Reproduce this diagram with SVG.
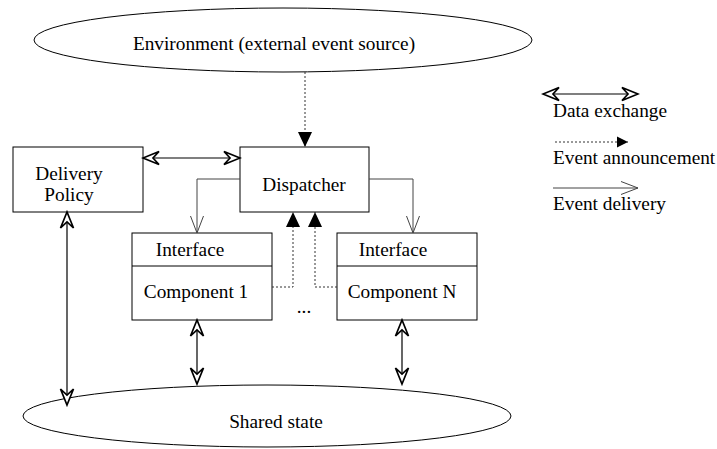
<svg xmlns="http://www.w3.org/2000/svg" width="717" height="449" viewBox="0 0 717 449">
<style>
text{font-family:"Liberation Serif","Times New Roman",serif;font-size:19.3px;fill:#000}
.box{fill:#fff;stroke:#000;stroke-width:1}
.ell{fill:#fff;stroke:#000;stroke-width:1}
.dx{fill:none;stroke:#000;stroke-width:1.2}
.ev{fill:none;stroke:#333;stroke-width:1;stroke-dasharray:2,2}
.dl{fill:none;stroke:#444;stroke-width:1}
</style>
<defs>
<marker id="mdx" markerUnits="userSpaceOnUse" viewBox="-18 -9 20 18" refX="0" refY="0" markerWidth="20" markerHeight="18" orient="auto-start-reverse">
<path d="M0,0 L-16,-6.5 L-10,0 L-16,6.5 Z" fill="#fff" stroke="#000" stroke-width="1.7" stroke-linejoin="miter"/>
</marker>
<marker id="mev" markerUnits="userSpaceOnUse" viewBox="-16 -8 17 16" refX="0" refY="0" markerWidth="17" markerHeight="16" orient="auto">
<path d="M0,0 L-15,-7 L-15,7 Z" fill="#000"/>
</marker>
<marker id="mev2" markerUnits="userSpaceOnUse" viewBox="-12 -6 13 12" refX="0" refY="0" markerWidth="13" markerHeight="12" orient="auto">
<path d="M0,0 L-11,-5.5 L-11,5.5 Z" fill="#000"/>
</marker>
<marker id="mdl" markerUnits="userSpaceOnUse" viewBox="-18 -8 19 16" refX="0" refY="0" markerWidth="19" markerHeight="16" orient="auto">
<path d="M-17,-6.5 L0,0 L-17,6.5" fill="none" stroke="#444" stroke-width="1"/>
</marker>
</defs>

<g id="environment">
<ellipse class="ell" cx="283" cy="40" rx="249" ry="32"/>
<text x="274" y="50" text-anchor="middle">Environment (external event source)</text>
</g>

<g id="delivery-policy">
<rect class="box" x="13" y="147" width="130" height="65"/>
<text x="69" y="180" text-anchor="middle">Delivery</text>
<text x="69" y="201" text-anchor="middle">Policy</text>
</g>

<g id="dispatcher">
<rect class="box" x="240" y="147" width="129" height="65"/>
<text x="304" y="191" text-anchor="middle">Dispatcher</text>
</g>

<g id="component-1">
<rect class="box" x="132" y="233" width="140" height="87"/>
<line x1="132" y1="266" x2="272" y2="266" stroke="#000" stroke-width="1"/>
<text x="190" y="256" text-anchor="middle">Interface</text>
<text x="196" y="298" text-anchor="middle">Component 1</text>
</g>

<g id="component-n">
<rect class="box" x="337" y="233" width="140" height="87"/>
<line x1="337" y1="266" x2="477" y2="266" stroke="#000" stroke-width="1"/>
<text x="393" y="256" text-anchor="middle">Interface</text>
<text x="402" y="298" text-anchor="middle">Component N</text>
</g>

<g id="shared-state">
<ellipse class="ell" cx="267" cy="416" rx="244" ry="31"/>
<text x="276" y="428" text-anchor="middle">Shared state</text>
</g>

<g id="ellipsis">
<text x="304" y="313" text-anchor="middle">...</text>
</g>

<g id="connectors">
<path class="ev" d="M305,72 L305,147" marker-end="url(#mev)"/>
<path class="dx" d="M143,158 L240,158" marker-start="url(#mdx)" marker-end="url(#mdx)"/>
<path class="dl" d="M240,179 L197,179 L197,233" marker-end="url(#mdl)"/>
<path class="dl" d="M369,179 L413,179 L413,233" marker-end="url(#mdl)"/>
<path class="ev" d="M272,287 L293,287 L293,212" marker-end="url(#mev)"/>
<path class="ev" d="M337,287 L315,287 L315,212" marker-end="url(#mev)"/>
<path class="dx" d="M67,212 L67,405" marker-start="url(#mdx)" marker-end="url(#mdx)"/>
<path class="dx" d="M197,320 L197,384" marker-start="url(#mdx)" marker-end="url(#mdx)"/>
<path class="dx" d="M402,320 L402,384" marker-start="url(#mdx)" marker-end="url(#mdx)"/>
</g>

<g id="legend">
<path class="dx" d="M543,94 L638,94" marker-start="url(#mdx)" marker-end="url(#mdx)"/>
<text x="553" y="117">Data exchange</text>
<path class="ev" d="M555,142 L628,142" marker-end="url(#mev2)"/>
<text x="553" y="164">Event announcement</text>
<path class="dl" d="M553,188 L638,188" marker-end="url(#mdl)"/>
<text x="553" y="210">Event delivery</text>
</g>
</svg>
